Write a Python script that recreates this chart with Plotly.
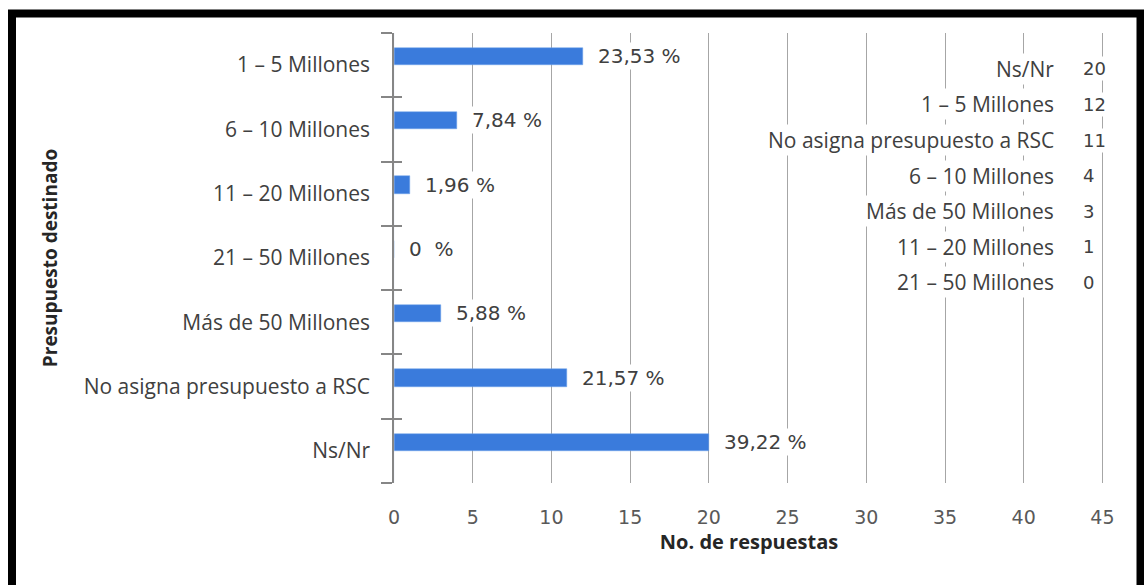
import plotly.graph_objects as go

# Budget ranges (top to bottom) and number of responses per range
categories = [
    "1 – 5 Millones",
    "6 – 10 Millones",
    "11 – 20 Millones",
    "21 – 50 Millones",
    "Más de 50 Millones",
    "No asigna presupuesto a RSC",
    "Ns/Nr",
]
responses = [12, 4, 1, 0, 3, 11, 20]
x_ticks = [0, 5, 10, 15, 20, 25, 30, 35, 40, 45]

total = sum(responses)


def pct_label(v):
    if v == 0:
        return "0  %"
    return f"{v / total * 100:.2f}".replace(".", ",") + " %"


# Page geometry (pixels)
W, H = 1144, 585
ML, MT, MB = 394, 33, 102
X_MAX = 45.1
MR = round(W - ML - 708 * X_MAX / 45)
PW, PH = W - ML - MR, H - MT - MB


def px_x(p):
    return (p - ML) / PW


def px_y(p):
    return (H - MB - p) / PH


BAR_COLOR = "#3a7bdc"
TEXT_COLOR = "#404040"
GRID_COLOR = "#a6a6a6"
AXIS_COLOR = "#868686"
LABEL_FONT = "Open Sans, Lato, sans-serif"
VALUE_FONT = "DejaVu Sans, Verdana, sans-serif"

fig = go.Figure()
fig.add_trace(
    go.Bar(
        x=responses,
        y=categories,
        orientation="h",
        width=0.27,
        offset=0,
        marker=dict(color=BAR_COLOR, line=dict(color="#6fa0ea", width=0.5)),
        showlegend=False,
        hoverinfo="x+y",
    )
)
# invisible trace so the overlay axis carries its own ticks
fig.add_trace(
    go.Bar(x=[0] * len(categories), y=categories, orientation="h",
           yaxis="y2", showlegend=False, hoverinfo="skip",
           marker=dict(color="rgba(0,0,0,0)"))
)

cat_order = list(reversed(categories))

fig.update_layout(
    width=W,
    height=H,
    margin=dict(l=ML, r=MR, t=MT, b=MB, autoexpand=False),
    paper_bgcolor="white",
    plot_bgcolor="white",
    bargap=0,
    xaxis=dict(
        range=[0, X_MAX],
        tickvals=x_ticks,
        showgrid=True,
        gridcolor=GRID_COLOR,
        gridwidth=1,
        zeroline=False,
        showline=False,
        ticks="",
        ticklabelstandoff=21,
        tickfont=dict(family=VALUE_FONT, size=19, color="#595959"),
        title=dict(
            text="<b>No. de respuestas</b>",
            font=dict(family=LABEL_FONT, size=20, color="#262626"),
            standoff=7,
        ),
        fixedrange=True,
    ),
    yaxis=dict(
        type="category",
        categoryorder="array",
        categoryarray=cat_order,
        range=[-0.5, len(categories) - 0.5],
        tickson="boundaries",
        ticks="outside",
        ticklen=11,
        tickwidth=1.5,
        tickcolor=AXIS_COLOR,
        showline=True,
        linecolor=AXIS_COLOR,
        linewidth=1.5,
        showgrid=False,
        ticklabelstandoff=18,
        tickfont=dict(family=LABEL_FONT, size=21, color=TEXT_COLOR),
        title=dict(
            text="<b>Presupuesto destinado</b>",
            font=dict(family=LABEL_FONT, size=19, color="#262626"),
            standoff=21,
        ),
        fixedrange=True,
    ),
    yaxis2=dict(
        type="category",
        categoryorder="array",
        categoryarray=cat_order,
        range=[-0.5, len(categories) - 0.5],
        overlaying="y",
        side="left",
        tickson="boundaries",
        ticks="inside",
        ticklen=8,
        tickwidth=1.5,
        tickcolor=AXIS_COLOR,
        showticklabels=False,
        showgrid=False,
        showline=False,
        fixedrange=True,
    ),
)

# Percentage labels next to each bar
for cat, v in zip(categories, responses):
    fig.add_annotation(
        x=v, y=cat, xref="x", yref="y",
        text=pct_label(v),
        showarrow=False,
        xanchor="left", yanchor="middle",
        xshift=13, yshift=9,
        bgcolor="white",
        font=dict(family=VALUE_FONT, size=20, color=TEXT_COLOR),
    )

# Ranked summary list on the right side
ranked = sorted(zip(categories, responses), key=lambda t: -t[1])
row_top, row_step = 69, 35.5
for i, (cat, v) in enumerate(ranked):
    yy = px_y(row_top + i * row_step)
    fig.add_annotation(
        x=px_x(1056), y=yy, xref="paper", yref="paper",
        text=cat, showarrow=False, xanchor="right", yanchor="middle",
        bgcolor="white",
        font=dict(family=LABEL_FONT, size=21, color=TEXT_COLOR),
    )
    fig.add_annotation(
        x=px_x(1081), y=yy, xref="paper", yref="paper",
        text=str(v), showarrow=False, xanchor="left", yanchor="middle",
        bgcolor="white",
        font=dict(family=VALUE_FONT, size=18, color=TEXT_COLOR),
    )

# Black frame around the chart (open at the bottom edge of the page)
fig.add_shape(
    type="rect", xref="paper", yref="paper",
    x0=px_x(12), x1=px_x(1140.5), y0=px_y(620), y1=px_y(13.5),
    line=dict(color="black", width=8), fillcolor="rgba(0,0,0,0)",
    layer="above",
)

fig.write_html("out.html")
